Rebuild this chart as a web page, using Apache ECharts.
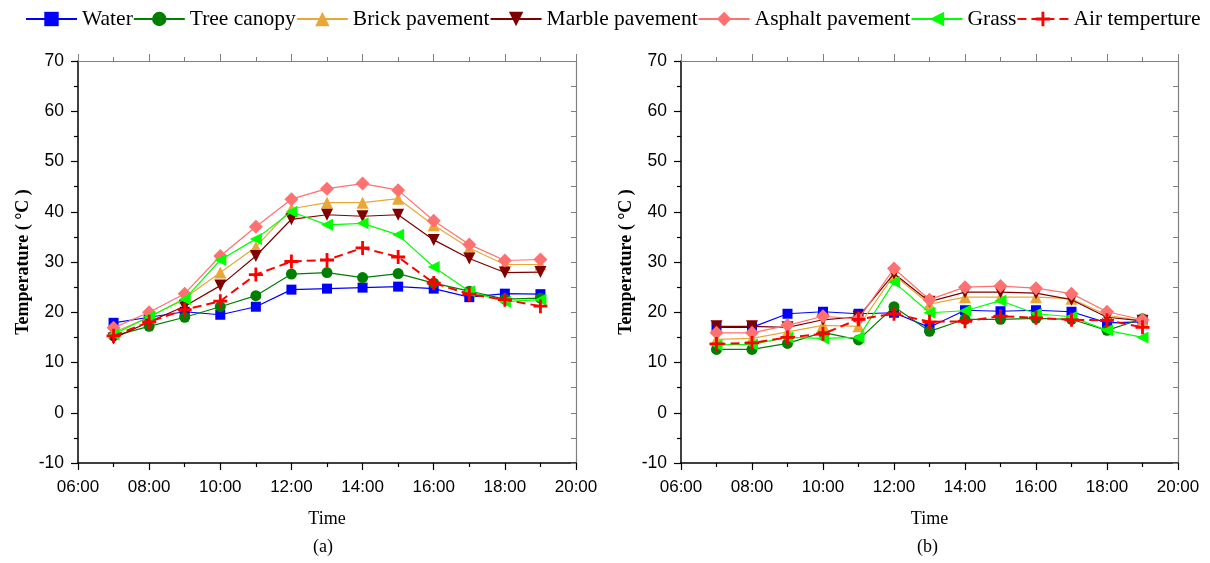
<!DOCTYPE html>
<html>
<head>
<meta charset="utf-8">
<script src="https://cdn.jsdelivr.net/npm/echarts@6/dist/echarts.min.js"></script>
<style>
  html, body { margin: 0; padding: 0; background: #fff; }
  #chart { width: 1210px; height: 563px; }
</style>
</head>
<body>
<div id="chart"></div>
<script>
// Hours of measurement (07:00 .. 19:00)
const hours = [7, 8, 9, 10, 11, 12, 13, 14, 15, 16, 17, 18, 19];

// Panel (a) surface temperatures (°C)
const waterA   = [17.9, 19.0, 20.1, 19.5, 21.1, 24.5, 24.7, 24.9, 25.1, 24.7, 23.0, 23.7, 23.6];
const treeA    = [15.3, 17.2, 19.0, 21.1, 23.3, 27.6, 27.9, 26.9, 27.7, 25.8, 24.2, 22.6, 22.8];
const brickA   = [16.0, 19.0, 22.8, 27.9, 33.0, 40.6, 41.8, 41.8, 42.6, 37.3, 32.8, 29.5, 29.5];
const marbleA  = [14.8, 18.1, 21.2, 25.3, 31.2, 38.5, 39.4, 39.1, 39.4, 34.4, 30.7, 27.9, 28.0];
const asphaltA = [16.9, 20.0, 23.7, 31.2, 37.0, 42.5, 44.6, 45.6, 44.3, 38.2, 33.5, 30.3, 30.5];
const grassA   = [15.6, 19.1, 22.6, 30.4, 34.6, 40.0, 37.4, 37.7, 35.4, 29.0, 24.2, 22.1, 22.5];
const airA     = [15.3, 18.1, 20.5, 22.2, 27.5, 30.1, 30.4, 32.8, 31.0, 25.8, 23.6, 22.5, 21.2];

// Panel (b) surface temperatures (°C)
const waterB   = [17.0, 17.0, 19.7, 20.1, 19.7, 19.9, 17.0, 20.4, 20.2, 20.4, 20.1, 17.9, 18.1];
const treeB    = [12.6, 12.6, 13.8, 16.0, 14.5, 21.1, 16.2, 18.6, 18.6, 18.8, 18.6, 16.4, 18.7];
const brickB   = [14.6, 14.8, 16.1, 17.4, 17.2, 27.4, 21.6, 23.0, 23.0, 23.0, 22.7, 19.4, 18.3];
const marbleB  = [17.2, 17.2, 17.0, 18.5, 19.1, 27.7, 22.1, 24.0, 24.0, 23.8, 22.5, 19.0, 18.3];
const asphaltB = [15.9, 15.9, 17.4, 19.2, 18.7, 28.7, 22.5, 25.0, 25.2, 24.8, 23.7, 20.1, 18.5];
const grassB   = [13.5, 13.6, 15.0, 14.8, 15.0, 26.0, 19.9, 20.3, 22.3, 19.7, 19.1, 16.4, 15.0];
const airB     = [13.7, 13.9, 15.0, 15.7, 18.6, 19.7, 18.1, 18.2, 19.2, 18.9, 18.5, 18.4, 17.0];

const seriesNames = ['Water', 'Tree canopy', 'Brick pavement', 'Marble pavement', 'Asphalt pavement', 'Grass', 'Air temperture'];
const panelLabels = ['(a)', '(b)'];
const axisTitleX = 'Time';
const axisTitleY = 'Temperature ( °C )';

const plusPath = 'path://M4,0 H6 V4 H10 V6 H6 V10 H4 V6 H0 V4 H4 Z';

// Visual style per series (same order as seriesNames)
const styles = [
  { color: '#0000ff', symbol: 'rect', size: 10, rotate: 0, dash: 'solid', width: 1.2 },
  { color: '#007f00', symbol: 'circle', size: 11, rotate: 0, dash: 'solid', width: 1.2 },
  { color: '#e8a838', symbol: 'triangle', size: 12, rotate: 0, dash: 'solid', width: 1.2 },
  { color: '#7f0000', symbol: 'triangle', size: 12, rotate: 180, dash: 'solid', width: 1.2 },
  { color: '#ff7070', symbol: 'diamond', size: 14, rotate: 0, dash: 'solid', width: 1.2 },
  { color: '#00ff00', symbol: 'triangle', size: 12, rotate: 90, dash: 'solid', width: 1.2 },
  { color: '#ff0000', symbol: plusPath, size: 14, rotate: 0, dash: [9, 5], width: 2 }
];

const panelA = [waterA, treeA, brickA, marbleA, asphaltA, grassA, airA];
const panelB = [waterB, treeB, brickB, marbleB, asphaltB, grassB, airB];

const sansFont = 'Liberation Sans';
const serifFont = 'Liberation Serif';

function hourLabel(v) {
  return (v < 10 ? '0' : '') + v + ':00';
}

function bottomX(gridIndex) {
  return {
    type: 'value', gridIndex: gridIndex, position: 'bottom',
    min: 6, max: 20, interval: 2,
    name: axisTitleX, nameLocation: 'middle', nameGap: 47,
    nameTextStyle: { fontFamily: serifFont, fontSize: 18, color: '#000' },
    axisLine: { show: true, onZero: false, lineStyle: { color: '#000', width: 1.5 } },
    axisTick: { show: true, length: 7, lineStyle: { color: '#000', width: 1.2 } },
    minorTick: { show: true, splitNumber: 2, length: 4, lineStyle: { color: '#000', width: 1.2 } },
    axisLabel: { formatter: hourLabel, fontFamily: sansFont, fontSize: 17, color: '#000', margin: 16 },
    splitLine: { show: false }
  };
}

function topX(gridIndex) {
  return {
    type: 'value', gridIndex: gridIndex, position: 'top',
    min: 6, max: 20, interval: 2,
    axisLine: { show: true, onZero: false, lineStyle: { color: '#808080', width: 1.2 } },
    axisTick: { show: true, length: 7, lineStyle: { color: '#808080', width: 1 } },
    minorTick: { show: true, splitNumber: 2, length: 4, lineStyle: { color: '#808080', width: 1 } },
    axisLabel: { show: false },
    splitLine: { show: false }
  };
}

function leftY(gridIndex) {
  return {
    type: 'value', gridIndex: gridIndex, position: 'left',
    min: -10, max: 70, interval: 10,
    name: axisTitleY, nameLocation: 'middle', nameGap: 46, nameRotate: 90,
    nameTextStyle: { fontFamily: serifFont, fontSize: 18, fontWeight: 'bold', color: '#000' },
    axisLine: { show: true, onZero: false, lineStyle: { color: '#000', width: 1.5 } },
    axisTick: { show: true, length: 7, lineStyle: { color: '#000', width: 1.2 } },
    minorTick: { show: true, splitNumber: 2, length: 4, lineStyle: { color: '#000', width: 1.2 } },
    axisLabel: { fontFamily: sansFont, fontSize: 17.5, color: '#000', margin: 14 },
    splitLine: { show: false }
  };
}

function rightY(gridIndex) {
  return {
    type: 'value', gridIndex: gridIndex, position: 'right',
    min: -10, max: 70, interval: 5,
    axisLine: { show: true, onZero: false, lineStyle: { color: '#808080', width: 1.2 } },
    axisTick: { show: true, inside: true, length: 5, lineStyle: { color: '#808080', width: 1 } },
    axisLabel: { show: false },
    splitLine: { show: false }
  };
}

function makeSeries(values, axisIndex) {
  return values.map(function (arr, i) {
    const s = styles[i];
    return {
      name: seriesNames[i],
      type: 'line',
      xAxisIndex: axisIndex, yAxisIndex: axisIndex,
      data: hours.map(function (h, k) { return [h, arr[k]]; }),
      symbol: s.symbol, symbolSize: s.size, symbolRotate: s.rotate,
      showAllSymbol: true,
      itemStyle: { color: s.color },
      lineStyle: { color: s.color, width: s.width, type: s.dash },
      emphasis: { disabled: true },
      animation: false,
      z: 2 + i
    };
  });
}

const chart = echarts.init(document.getElementById('chart'), null, { renderer: 'canvas' });

chart.setOption({
  backgroundColor: '#ffffff',
  animation: false,
  legend: {
    top: 3, left: 20, width: 1190, padding: [5, 0, 5, 5],
    itemWidth: 51, itemHeight: 18, itemGap: 0,
    textStyle: { fontFamily: serifFont, fontSize: 21.5, color: '#000' },
    data: seriesNames
  },
  grid: [
    { left: 78, right: 634, top: 61, bottom: 100, containLabel: false },
    { left: 681, right: 32, top: 61, bottom: 100, containLabel: false }
  ],
  xAxis: [bottomX(0), bottomX(1), topX(0), topX(1)],
  yAxis: [leftY(0), leftY(1), rightY(0), rightY(1)],
  graphic: [
    { type: 'text', left: 313, top: 538, style: { text: panelLabels[0], font: '18px "Liberation Serif"', fill: '#000' } },
    { type: 'text', left: 917, top: 538, style: { text: panelLabels[1], font: '18px "Liberation Serif"', fill: '#000' } }
  ],
  series: makeSeries(panelA, 0).concat(makeSeries(panelB, 1))
});
</script>
</body>
</html>
